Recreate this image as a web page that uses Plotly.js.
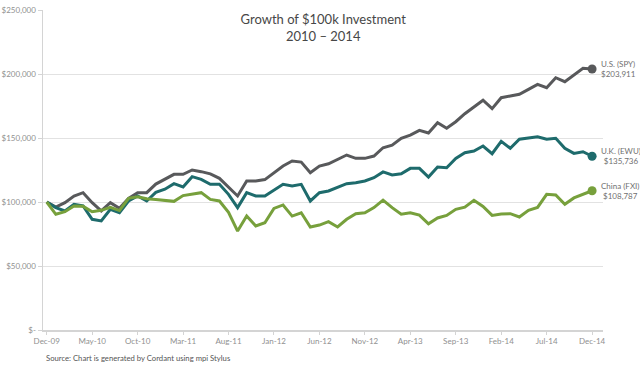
<!DOCTYPE html>
<html>
<head>
<meta charset="utf-8">
<script src="https://cdn.plot.ly/plotly-3.0.1.min.js"></script>
<style>html,body{margin:0;padding:0;background:#fff;}#chart{width:640px;height:366px;}</style>
</head>
<body>
<div id="chart"></div>
<script>
var months = [
 'Dec-09','Jan-10','Feb-10','Mar-10','Apr-10','May-10','Jun-10','Jul-10','Aug-10','Sep-10','Oct-10','Nov-10','Dec-10',
 'Jan-11','Feb-11','Mar-11','Apr-11','May-11','Jun-11','Jul-11','Aug-11','Sep-11','Oct-11','Nov-11','Dec-11',
 'Jan-12','Feb-12','Mar-12','Apr-12','May-12','Jun-12','Jul-12','Aug-12','Sep-12','Oct-12','Nov-12','Dec-12',
 'Jan-13','Feb-13','Mar-13','Apr-13','May-13','Jun-13','Jul-13','Aug-13','Sep-13','Oct-13','Nov-13','Dec-13',
 'Jan-14','Feb-14','Mar-14','Apr-14','May-14','Jun-14','Jul-14','Aug-14','Sep-14','Oct-14','Nov-14','Dec-14'
];
var xTickLabels = ['Dec-09','May-10','Oct-10','Mar-11','Aug-11','Jan-12','Jun-12','Nov-12','Apr-13','Sep-13','Feb-14','Jul-14','Dec-14'];

// values in $ thousands
var usSPY = [100,96,99.5,104.7,107.3,99.5,93,99.5,95.1,102.9,107.3,107.3,114,
 117.5,121.6,121.6,125,123.7,122,118.5,111.5,104.7,116.4,116.4,117.5,
 123,128.1,132,131.2,122.9,128.1,129.9,133.3,136.7,134.1,134.1,135.9,
 142.4,144.4,149.8,152.3,156,153.9,162,157.6,162.7,169,174.2,179.5,
 172.9,181.5,182.8,184.1,188,191.9,189.3,197.1,194,199.2,204.4,203.911];
var ukEWU = [100,95.6,93,98.2,96.9,86.5,85.2,94.3,91.6,100.8,104.7,100.8,107.5,
 110,114.3,111.7,119.8,117.7,113.8,113.8,106,95.6,107.3,104.7,104.7,
 109.5,113.8,112.5,113.8,100.8,107.3,108.6,111.7,114.3,115.1,116.4,119,
 123.5,121.1,122.1,126.3,126.3,119.5,127.3,126.8,134.1,138.5,139.8,143.7,
 137.7,147.4,142,149,150.2,151,149,149.8,142,138,139.3,135.736];
var chinaFXI = [100,90.4,92.4,96.9,96.6,92.4,93.5,95.8,93.3,102.9,104,102.5,102,
 101,100.5,105,106,107.3,102,100.8,92,77.3,89,81.3,83.8,
 95,97.7,89,91.6,80.5,82,84.6,80.5,86.5,90.9,91.6,95.6,
 101.5,95.6,90.4,91.6,89.8,83,87.5,89.5,94.3,96,101.3,96.5,
 89.5,90.6,90.9,88.3,93.5,95.8,106,105.5,98.2,103.2,105.8,108.787];

var seriesNames = ['U.S. (SPY)','U.K. (EWU)','China (FXI)'];
var seriesData = [usSPY, ukEWU, chinaFXI];
var seriesColors = ['#58595b','#1e6b6c','#77a03c'];
var yTickVals = [0,50000,100000,150000,200000,250000];
var yTickText = ['$-','$50,000','$100,000','$150,000','$200,000','$250,000'];

var xIdx = months.map(function(m,i){return i;});
var traces = [];
var annotations = [];
var last = months.length - 1;
seriesData.forEach(function(s, k){
  var yv = s.map(function(v){return v*1000;});
  traces.push({
    x: xIdx, y: yv, type: 'scatter', mode: 'lines', name: seriesNames[k],
    line: {color: seriesColors[k], width: 3}, hoverinfo: 'none'
  });
  traces.push({
    x: [last], y: [yv[last]], type: 'scatter', mode: 'markers',
    marker: {color: seriesColors[k], size: 9}, hoverinfo: 'none', showlegend: false
  });
  var endVal = '$' + Math.round(yv[last]).toLocaleString('en-US');
  annotations.push({
    x: last, y: yv[last], xref: 'x', yref: 'y', xanchor: 'left', yanchor: 'middle',
    xshift: 7, showarrow: false, align: 'center',
    text: seriesNames[k] + '<br>' + endVal,
    font: {family: 'Lato, sans-serif', size: 8, color: '#707070'}
  });
});
annotations.push({
  x: 0.002, y: -0.086, xref: 'paper', yref: 'paper', xanchor: 'left', yanchor: 'middle',
  showarrow: false, text: 'Source: Chart is generated by Cordant using mpi Stylus',
  font: {family: 'Lato, sans-serif', size: 7.7, color: '#555'}
});

var layout = {
  width: 640, height: 366,
  margin: {l: 43, r: 37, t: 10, b: 36},
  paper_bgcolor: '#fff', plot_bgcolor: '#fff',
  showlegend: false,
  title: {
    text: 'Growth of $100k Investment<br>2010 – 2014',
    x: 0.505, xanchor: 'center', y: 0.934, yanchor: 'middle',
    font: {family: 'Lato, sans-serif', size: 13, color: '#474747'}
  },
  xaxis: {
    range: [-0.41, 61.2],
    tickvals: [0,5,10,15,20,25,30,35,40,45,50,55,60],
    ticktext: xTickLabels,
    showgrid: false, zeroline: false,
    showline: true, linecolor: '#d4d4d4', linewidth: 1.5,
    ticks: 'outside', ticklen: 3, tickcolor: '#d4d4d4',
    tickfont: {family: 'Lato, sans-serif', size: 8, color: '#909090'}
  },
  yaxis: {
    range: [0, 250000],
    tickvals: yTickVals, ticktext: yTickText,
    showgrid: true, gridcolor: '#e2e2e2', gridwidth: 1,
    zeroline: false,
    showline: true, linecolor: '#d4d4d4', linewidth: 1.5,
    ticks: 'outside', ticklen: 4, tickcolor: '#d4d4d4',
    tickfont: {family: 'Lato, sans-serif', size: 8, color: '#909090'}
  },
  shapes: [{
    type: 'rect', xref: 'paper', yref: 'paper', layer: 'above',
    x0: 0.307, x1: 0.655, y0: 0.981, y1: 1.02,
    fillcolor: '#fff', line: {width: 0}
  }],
  annotations: annotations
};

Plotly.newPlot('chart', traces, layout, {staticPlot: true, displayModeBar: false});
</script>
</body>
</html>
